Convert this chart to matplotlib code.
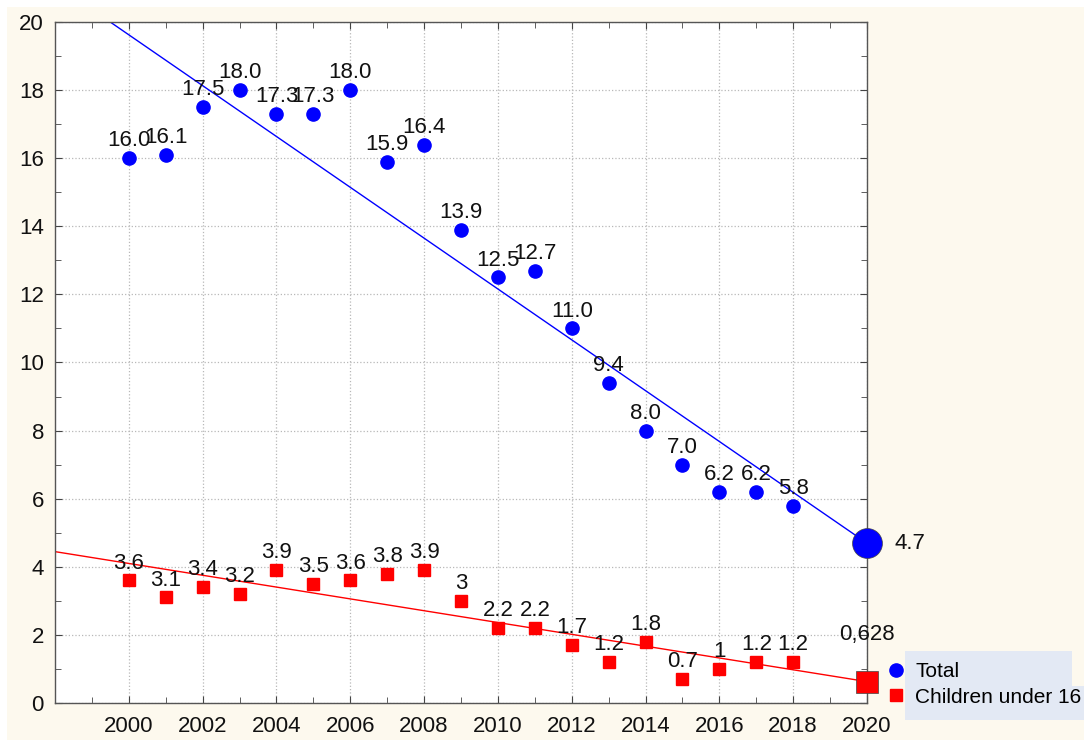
import matplotlib
matplotlib.use("Agg")
import matplotlib.pyplot as plt
from matplotlib.ticker import MultipleLocator
from matplotlib.patches import Rectangle
import numpy as np

plt.rcParams["font.family"] = ["Liberation Sans", "DejaVu Sans"]

years = list(range(2000, 2019))
total = [16.0, 16.1, 17.5, 18.0, 17.3, 17.3, 18.0, 15.9, 16.4, 13.9,
         12.5, 12.7, 11.0, 9.4, 8.0, 7.0, 6.2, 6.2, 5.8]
children = [3.6, 3.1, 3.4, 3.2, 3.9, 3.5, 3.6, 3.8, 3.9, 3.0,
            2.2, 2.2, 1.7, 1.2, 1.8, 0.7, 1.0, 1.2, 1.2]
total_labels = ["16.0", "16.1", "17.5", "18.0", "17.3", "17.3", "18.0", "15.9", "16.4", "13.9",
                "12.5", "12.7", "11.0", "9.4", "8.0", "7.0", "6.2", "6.2", "5.8"]
children_labels = ["3.6", "3.1", "3.4", "3.2", "3.9", "3.5", "3.6", "3.8", "3.9", "3",
                   "2.2", "2.2", "1.7", "1.2", "1.8", "0.7", "1", "1.2", "1.2"]
forecast_year = 2020
forecast_labels = ["4.7", "0,628"]

cream = "#fdf9ee"
legend_bg = "#e3e9f4"
W, H = 1084, 742
fig = plt.figure(figsize=(W / 100, H / 100), dpi=100, facecolor="white")
fig.patches.append(Rectangle((7 / W, 2 / H), 1 - 7 / W, 1 - 9 / H, transform=fig.transFigure,
                             facecolor=cream, edgecolor="none", zorder=-2))
# legend background box (markers sit just left of it)
fig.patches.append(Rectangle((905 / W, 1 - 720 / H), 167 / W, 69 / H, transform=fig.transFigure,
                             facecolor=legend_bg, edgecolor="none", zorder=-1))
fig.patches.append(Rectangle((905 / W, 1 - 720 / H), 179 / W, 34 / H, transform=fig.transFigure,
                             facecolor=legend_bg, edgecolor="none", zorder=-1))

ax = fig.add_axes([55 / W, 1 - 703 / H, 812 / W, 681 / H])
ax.set_facecolor("white")

fs = 16
xs = np.array(years)
xfit = np.array([1998, forecast_year])
series = [
    (total, total_labels, "#0000ff", "o", 9.5, 21.5, "Total", forecast_labels[0]),
    (children, children_labels, "#ff0000", "s", 9, 16.5, "Children under 16", forecast_labels[1]),
]
for vals, labs, col, mk, ms, big_ms, name, flab in series:
    k, b = np.polyfit(xs, vals, 1)
    ax.plot(xfit, k * xfit + b, color=col, lw=1, zorder=2)
    ax.plot(years, vals, ls="none", marker=mk, color=col, ms=ms, zorder=3, label=name)
    for x, y, t in zip(years, vals, labs):
        ax.annotate(t, (x, y), xytext=(0, 8.5), textcoords="offset points",
                    ha="center", va="baseline", fontsize=fs, color="#111111")
    yf = k * forecast_year + b
    ax.plot([forecast_year], [yf], marker=mk, color=col, ms=big_ms, mec="#444444",
            mew=0.5, clip_on=False, zorder=4)
    if mk == "o":
        ax.annotate(flab, (forecast_year, yf), xytext=(20, 0), textcoords="offset points",
                    ha="left", va="center", fontsize=fs, color="#111111")
    else:
        ax.annotate(flab, (forecast_year, yf), xytext=(0, 30), textcoords="offset points",
                    ha="center", va="baseline", fontsize=fs, color="#111111")

ax.set_xlim(1998, 2020)
ax.set_ylim(0, 20)
ax.xaxis.set_major_locator(MultipleLocator(2))
ax.xaxis.set_minor_locator(MultipleLocator(1))
ax.yaxis.set_major_locator(MultipleLocator(2))
ax.yaxis.set_minor_locator(MultipleLocator(1))
ax.set_xticks(range(2000, 2021, 2))
ax.grid(True, which="major", ls=":", color="#b8b8b8", lw=0.9)
ax.tick_params(which="both", direction="in", top=True, right=True, colors="#444444",
               labelcolor="#111111", labelsize=fs)
ax.tick_params(axis="x", pad=9)
ax.tick_params(axis="y", pad=8)
ax.tick_params(which="major", length=5)
ax.tick_params(which="minor", length=4)
for s in ax.spines.values():
    s.set_color("#555555")
    s.set_linewidth(1)

handles, labels = ax.get_legend_handles_labels()
leg = fig.legend(handles, labels, loc="center left", bbox_to_anchor=(881.5 / W, 1 - 684.5 / H),
                 frameon=False, fontsize=15, handletextpad=0.41, borderpad=0.2,
                 handlelength=1.0, labelspacing=0.3, borderaxespad=0)

fig.savefig("out.png", dpi=100, facecolor="white")
